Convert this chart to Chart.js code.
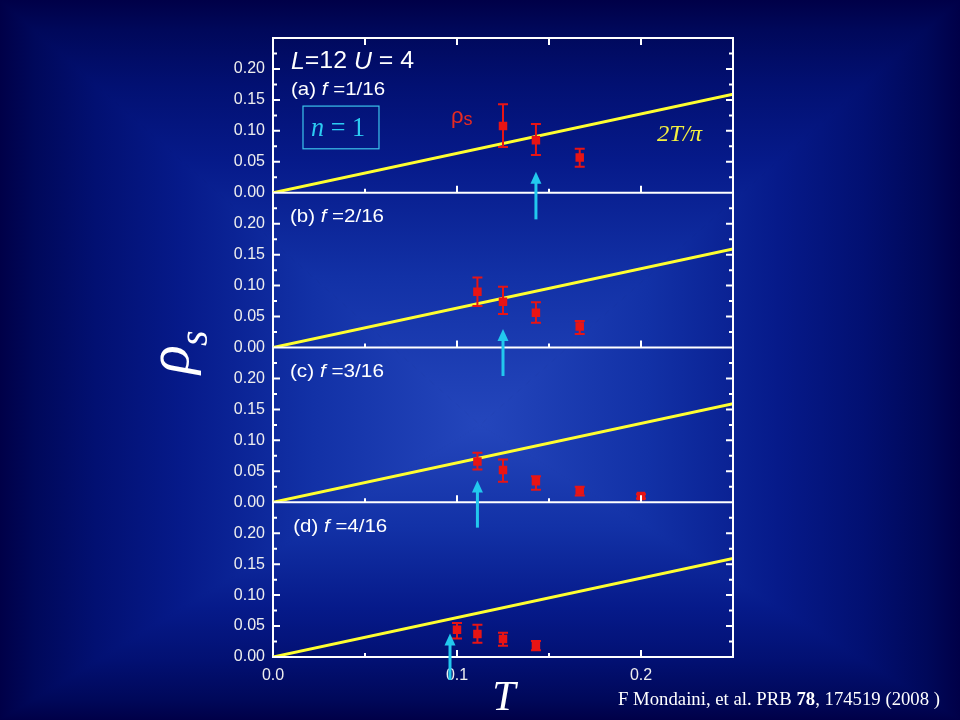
<!DOCTYPE html>
<html><head><meta charset="utf-8">
<script src="https://cdn.jsdelivr.net/npm/chart.js@4.4.1/dist/chart.umd.min.js"></script>
<style>
html,body{margin:0;padding:0;width:960px;height:720px;overflow:hidden;background:#000048;}
#wrap{position:relative;width:960px;height:720px;}
#bg{position:absolute;left:0;top:0;}
#cw{position:absolute;left:0;top:0;width:960px;height:720px;}
</style></head><body><div id="wrap"><canvas id="bg" width="960" height="720"></canvas><div id="cw"><canvas id="c"></canvas></div></div>
<script>
// ---- data ----
const panelIds   = ['ya','yb','yc','yd'];
const panelTags  = ['(a)','(b)','(c)','(d)'];
const fillings   = ['1/16','2/16','3/16','4/16'];

const tA   = [0.125, 0.1429, 0.1667];
const rhoA = [0.108, 0.085, 0.057];
const loA  = [0.074, 0.061, 0.042];
const hiA  = [0.143, 0.111, 0.071];

const tB   = [0.1111, 0.125, 0.1429, 0.1667];
const rhoB = [0.090, 0.074, 0.056, 0.034];
const loB  = [0.067, 0.054, 0.040, 0.022];
const hiB  = [0.113, 0.098, 0.073, 0.043];

const tC   = [0.1111, 0.125, 0.1429, 0.1667, 0.2];
const rhoC = [0.066, 0.052, 0.034, 0.019, 0.010];
const loC  = [0.053, 0.033, 0.020, 0.011, 0.006];
const hiC  = [0.080, 0.069, 0.042, 0.025, 0.013];

const tD   = [0.1, 0.1111, 0.125, 0.1429];
const rhoD = [0.044, 0.037, 0.029, 0.018];
const loD  = [0.030, 0.023, 0.018, 0.011];
const hiD  = [0.055, 0.052, 0.039, 0.026];

const lineT   = [0, 0.25];      // 2T/pi line end points
const lineRho = [0, 0.159];

const arrowT    = [0.1429, 0.125, 0.1111, 0.0962];
const arrowTip  = [0.034, 0.030, 0.035, 0.038];
const arrowTail = [-0.043, -0.046, -0.041, -0.037];

const yTickLabels = ['0.00','0.05','0.10','0.15','0.20'];
const xTickLabels = ['0.0','0.1','0.2'];

const panelT   = [tA, tB, tC, tD];
const panelRho = [rhoA, rhoB, rhoC, rhoD];
const panelLo  = [loA, loB, loC, loD];
const panelHi  = [hiA, hiB, hiC, hiD];

// ---- background (rectangular "from centre" gradient) ----
(function () {
  const c = document.getElementById('bg').getContext('2d');
  const W = 960, H = 720, cx = 480, cy = 425;
  const stops = [[0, '#2446bc'], [0.35, '#1231a6'], [0.62, '#061a8a'], [0.8, '#021072'], [0.93, '#00085a'], [1, '#000048']];
  const tris = [
    [[0, 0], [W, 0], cx, 0],
    [[W, 0], [W, H], W, cy],
    [[W, H], [0, H], cx, H],
    [[0, H], [0, 0], 0, cy]
  ];
  tris.forEach(([p1, p2, ex, ey]) => {
    const g = c.createLinearGradient(cx, cy, ex, ey);
    stops.forEach(s => g.addColorStop(s[0], s[1]));
    c.fillStyle = g;
    c.beginPath(); c.moveTo(cx, cy); c.lineTo(p1[0], p1[1]); c.lineTo(p2[0], p2[1]); c.closePath();
    c.fill();
    c.strokeStyle = g; c.lineWidth = 1; c.stroke();
  });
})();

// ---- styles ----
const RED = '#e81414', YEL = '#ffff30', CYAN = '#22c8ee', WHITE = '#ffffff';
const SANS = '"Liberation Sans", Arial, sans-serif';
const SERIF = '"Liberation Serif", "Times New Roman", serif';

const datasets = [];
panelIds.forEach((id, p) => {
  datasets.push({
    label: 'rho' + p, yAxisID: id, xAxisID: 'x',
    data: panelT[p].map((t, i) => ({x: t, y: panelRho[p][i]})),
    lo: panelLo[p], hi: panelHi[p],
    pointStyle: 'rect', pointRadius: 6, backgroundColor: RED, borderColor: RED, borderWidth: 0,
    showLine: false, isErr: true
  });
});
panelIds.forEach((id, p) => {
  datasets.push({
    label: 'line' + p, yAxisID: id, xAxisID: 'x',
    data: lineT.map((t, i) => ({x: t, y: lineRho[i]})),
    showLine: true, borderColor: YEL, borderWidth: 3, pointRadius: 0
  });
});

function yAxis(id) {
  return {
    type: 'linear', position: 'left', stack: 'rho', stackWeight: 1,
    min: 0, max: 0.25,
    grid: {display: false, drawTicks: false},
    border: {display: true, color: WHITE, width: 2},
    ticks: {
      stepSize: 0.05, padding: 8, color: '#eeeeee', autoSkip: false,
      font: {family: SANS, size: 16},
      callback: v => { const k = Math.round(v * 100); return (k % 5 === 0 && k <= 20) ? yTickLabels[k / 5] : null; }
    },
    afterFit: s => { s.width = 60; }
  };
}

const scales = {
  x: {
    type: 'linear', position: 'bottom', min: 0, max: 0.25,
    grid: {display: false, drawTicks: false},
    border: {display: true, color: WHITE, width: 2},
    ticks: {
      stepSize: 0.1, padding: 9, color: '#eeeeee', autoSkip: false, maxRotation: 0,
      font: {family: SANS, size: 16},
      callback: v => { const k = Math.round(v * 100); return k % 10 === 0 ? xTickLabels[k / 10] : null; }
    },
    afterFit: s => { s.height = 63; }
  },
  yd: yAxis('yd'), yc: yAxis('yc'), yb: yAxis('yb'), ya: yAxis('ya')
};

// draws mixed-font text, optionally squeezed/stretched to a target width
function rich(ctx, x, y, segs, target) {
  let tw = 0;
  for (const s of segs) { ctx.font = s.f; tw += ctx.measureText(s.t).width; }
  const k = target ? target / tw : 1;
  ctx.save();
  ctx.translate(x, y);
  ctx.scale(k, 1);
  let cx = 0;
  for (const s of segs) {
    ctx.font = s.f; ctx.fillStyle = s.c;
    ctx.fillText(s.t, cx, s.dy || 0);
    cx += ctx.measureText(s.t).width;
  }
  ctx.restore();
  return tw * k;
}

const errPlugin = {
  id: 'errbars',
  beforeDatasetDraw(chart, args) {
    const ds = chart.data.datasets[args.index];
    if (!ds.isErr) return;
    const ctx = chart.ctx, xs = chart.scales.x, ys = chart.scales[ds.yAxisID];
    ctx.save();
    ctx.strokeStyle = RED; ctx.lineWidth = 2;
    ds.data.forEach((pt, i) => {
      const px = xs.getPixelForValue(pt.x);
      const y1 = ys.getPixelForValue(ds.lo[i]), y2 = ys.getPixelForValue(ds.hi[i]);
      ctx.beginPath();
      ctx.moveTo(px, y1); ctx.lineTo(px, y2);
      ctx.moveTo(px - 5, y1); ctx.lineTo(px + 5, y1);
      ctx.moveTo(px - 5, y2); ctx.lineTo(px + 5, y2);
      ctx.stroke();
    });
    ctx.restore();
  }
};

const framePlugin = {
  id: 'frame',
  afterDraw(chart) {
    const ctx = chart.ctx, a = chart.chartArea, xs = chart.scales.x;
    ctx.save();
    ctx.strokeStyle = WHITE; ctx.lineWidth = 2;
    ctx.beginPath();
    ctx.moveTo(a.left, a.top); ctx.lineTo(a.right, a.top); ctx.lineTo(a.right, a.bottom);
    ctx.stroke();
    panelIds.forEach((id) => {
      const ys = chart.scales[id];
      const y0 = ys.getPixelForValue(0);
      ctx.beginPath(); ctx.moveTo(a.left, y0); ctx.lineTo(a.right, y0); ctx.stroke();
      ctx.beginPath();
      for (let k = 1; k < 10; k++) {
        const py = ys.getPixelForValue(k * 0.025);
        const len = (k % 2 === 0) ? 7 : 4;
        ctx.moveTo(a.left, py); ctx.lineTo(a.left + len, py);
        ctx.moveTo(a.right, py); ctx.lineTo(a.right - len, py);
      }
      for (let k = 1; k < 5; k++) {
        const px = xs.getPixelForValue(k * 0.05);
        const len = (k % 2 === 0) ? 7 : 4;
        ctx.moveTo(px, y0); ctx.lineTo(px, y0 - len);
      }
      ctx.stroke();
    });
    ctx.beginPath();
    for (let k = 1; k < 5; k++) {
      const px = xs.getPixelForValue(k * 0.05);
      ctx.moveTo(px, a.top); ctx.lineTo(px, a.top + 7);
    }
    ctx.stroke();

    // arrows
    ctx.strokeStyle = CYAN; ctx.fillStyle = CYAN; ctx.lineWidth = 3;
    panelIds.forEach((id, p) => {
      const ys = chart.scales[id];
      const px = xs.getPixelForValue(arrowT[p]);
      const tip = ys.getPixelForValue(arrowTip[p]), tail = ys.getPixelForValue(arrowTail[p]);
      ctx.beginPath(); ctx.moveTo(px, tail); ctx.lineTo(px, tip + 8); ctx.stroke();
      ctx.beginPath(); ctx.moveTo(px, tip); ctx.lineTo(px - 5.5, tip + 12); ctx.lineTo(px + 5.5, tip + 12); ctx.closePath(); ctx.fill();
    });

    // panel texts
    ctx.textBaseline = 'middle'; ctx.textAlign = 'left';
    const ya = chart.scales.ya;
    rich(ctx, xs.getPixelForValue(0.0098), ya.getPixelForValue(0.211), [
      {t: 'L', f: 'italic 23px ' + SANS, c: WHITE},
      {t: '=12 ', f: '23px ' + SANS, c: WHITE},
      {t: 'U', f: 'italic 23px ' + SANS, c: WHITE},
      {t: ' = 4', f: '23px ' + SANS, c: WHITE}
    ], 123);
    const labelVal = [0.166, 0.211, 0.211, 0.21];
    const labelT = [0.0098, 0.0092, 0.0092, 0.011];
    panelIds.forEach((id, p) => {
      const ys = chart.scales[id];
      rich(ctx, xs.getPixelForValue(labelT[p]), ys.getPixelForValue(labelVal[p]), [
        {t: panelTags[p] + ' ', f: '19px ' + SANS, c: WHITE},
        {t: 'f', f: 'italic 19px ' + SANS, c: WHITE},
        {t: ' =' + fillings[p], f: '19px ' + SANS, c: WHITE}
      ], 94);
    });
    // n = 1 box
    const bx1 = xs.getPixelForValue(0.0163), bx2 = xs.getPixelForValue(0.0576);
    const by1 = ya.getPixelForValue(0.140), by2 = ya.getPixelForValue(0.071);
    ctx.strokeStyle = '#3cc4ec'; ctx.lineWidth = 1.2;
    ctx.strokeRect(bx1, by1, bx2 - bx1, by2 - by1);
    rich(ctx, xs.getPixelForValue(0.0207), (by1 + by2) / 2 + 1, [
      {t: 'n', f: 'italic 27px ' + SERIF, c: '#2ccbf2'},
      {t: ' = 1', f: '27px ' + SERIF, c: '#2ccbf2'}
    ], 54);
    // rho_s label
    rich(ctx, xs.getPixelForValue(0.0967), ya.getPixelForValue(0.1226), [
      {t: 'ρ', f: '22px ' + SANS, c: '#e82a20'},
      {t: 's', f: '18px ' + SANS, c: '#e82a20', dy: 3}
    ]);
    // 2T/pi
    rich(ctx, xs.getPixelForValue(0.2087), ya.getPixelForValue(0.0935), [
      {t: '2', f: 'italic 23px ' + SERIF, c: '#f4f040'},
      {t: 'T', f: 'italic 23px ' + SERIF, c: '#f4f040'},
      {t: '/π', f: 'italic 23px ' + SERIF, c: '#f4f040'}
    ], 45);

    // axis titles
    ctx.save();
    ctx.translate(188, 352);
    ctx.rotate(-Math.PI / 2);
    ctx.textBaseline = 'alphabetic';
    ctx.fillStyle = WHITE;
    ctx.font = 'italic 60px ' + SERIF;
    ctx.fillText('ρ', -22, 0);
    ctx.font = 'italic 40px ' + SERIF;
    ctx.fillText('s', 6, 19);
    ctx.restore();

    ctx.textBaseline = 'alphabetic'; ctx.textAlign = 'center';
    ctx.fillStyle = WHITE; ctx.font = 'italic 42px ' + SERIF;
    ctx.fillText('T', 504, 710);

    // citation
    ctx.textAlign = 'left';
    rich(ctx, 618, 705, [
      {t: 'F Mondaini, et al. PRB ', f: '18px ' + SERIF, c: WHITE},
      {t: '78', f: 'bold 18px ' + SERIF, c: WHITE},
      {t: ', 174519 (2008 )', f: '18px ' + SERIF, c: WHITE}
    ], 322);
    ctx.restore();
  }
};

new Chart(document.getElementById('c'), {
  type: 'scatter',
  data: {datasets},
  options: {
    responsive: true, maintainAspectRatio: false, animation: false,
    layout: {padding: {left: 213, right: 227, top: 38, bottom: 0}},
    plugins: {legend: {display: false}, tooltip: {enabled: false}},
    scales
  },
  plugins: [errPlugin, framePlugin]
});
</script></body></html>
